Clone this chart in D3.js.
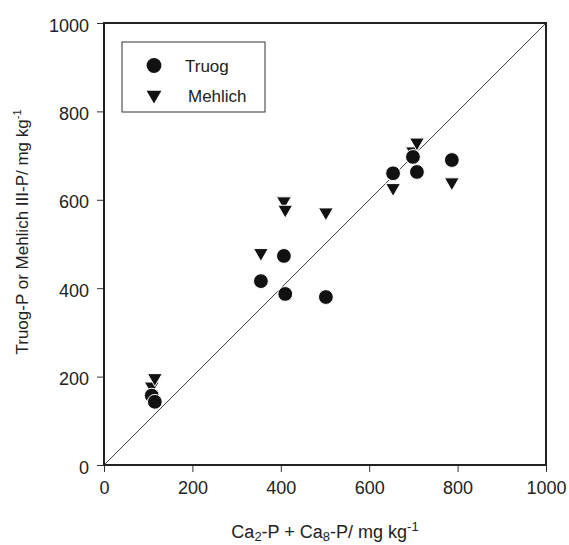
<!DOCTYPE html>
<html><head><meta charset="utf-8">
<script src="https://cdn.jsdelivr.net/npm/d3@7"></script>
<style>body{margin:0;background:#fff}svg{display:block}text{font-family:"Liberation Sans",Arial,sans-serif;fill:#222}</style>
</head><body>
<script>
const sampleX   = [108, 115, 355, 407, 410, 502, 654, 699, 708, 787];
const truogP    = [157, 143, 416, 473, 387, 380, 660, 697, 663, 690];
const mehlichP  = [178, 197, 480, 597, 578, 572, 627, 710, 730, 640];
const xTicks = [0, 200, 400, 600, 800, 1000];
const yTicks = [0, 200, 400, 600, 800, 1000];
const seriesNames = ["Truog", "Mehlich"];

const W = 569, H = 545;
const m = {l:104, r:23, t:23, b:80};
const svg = d3.select("body").append("svg").attr("width", W).attr("height", H);
const x = d3.scaleLinear().domain([0,1000]).range([m.l, W - m.r]);
const y = d3.scaleLinear().domain([0,1000]).range([H - m.b, m.t]);

// 1:1 line
svg.append("line").attr("x1", x(0)).attr("y1", y(0)).attr("x2", x(1000)).attr("y2", y(1000))
  .attr("stroke", "#444").attr("stroke-width", 1);

// axes
const xa = svg.append("g").attr("transform", `translate(0,${y(0)})`)
  .call(d3.axisBottom(x).tickValues(xTicks).tickSize(7).tickPadding(9).tickFormat(d3.format("d")));
const ya = svg.append("g").attr("transform", `translate(${x(0)},0)`)
  .call(d3.axisLeft(y).tickValues(yTicks).tickSize(7).tickPadding(8).tickFormat(d3.format("d")));
[xa, ya].forEach(g => {
  g.select(".domain").remove();
  g.selectAll(".tick line").attr("stroke", "#333").attr("stroke-width", 1);
  g.selectAll(".tick text").style("font-size", "18px").attr("fill", "#222");
});
ya.selectAll(".tick text").attr("dy", "0.45em");

// frame
svg.append("rect").attr("x", x(0)).attr("y", y(1000)).attr("width", x(1000) - x(0)).attr("height", y(0) - y(1000))
  .attr("fill", "none").attr("stroke", "#222").attr("stroke-width", 2);

// markers
const tri = d3.symbol().type(d3.symbolTriangle).size(95);
svg.append("g").selectAll("path").data(sampleX.map((v,i)=>[v, mehlichP[i]])).join("path")
  .attr("d", tri).attr("transform", d => `translate(${x(d[0])},${y(d[1])}) rotate(180)`)
  .attr("fill", "#111").attr("stroke", "#fff").attr("stroke-width", 1);
svg.append("g").selectAll("circle").data(sampleX.map((v,i)=>[v, truogP[i]])).join("circle")
  .attr("cx", d => x(d[0])).attr("cy", d => y(d[1])).attr("r", 7.4)
  .attr("fill", "#111").attr("stroke", "#fff").attr("stroke-width", 1);

// legend
const lg = svg.append("g");
lg.append("rect").attr("x", 122).attr("y", 42).attr("width", 143).attr("height", 70)
  .attr("fill", "#fff").attr("stroke", "#333").attr("stroke-width", 1);
lg.append("circle").attr("cx", 154).attr("cy", 65.5).attr("r", 7.4).attr("fill", "#111");
lg.append("path").attr("d", tri).attr("transform", "translate(154,95) rotate(180)").attr("fill", "#111");
lg.append("text").attr("x", 185).attr("y", 72).style("font-size", "17px").text(seriesNames[0]);
lg.append("text").attr("x", 188).attr("y", 102).style("font-size", "17px").text(seriesNames[1]);

// x label
const xl = svg.append("text").attr("x", (x(0)+x(1000))/2).attr("y", 538).attr("text-anchor", "middle").style("font-size", "18px");
xl.append("tspan").text("Ca");
xl.append("tspan").attr("dy", 3).style("font-size", "13px").text("2");
xl.append("tspan").attr("dy", -3).text("-P + Ca");
xl.append("tspan").attr("dy", 3).style("font-size", "13px").text("8");
xl.append("tspan").attr("dy", -3).text("-P/ mg kg");
xl.append("tspan").attr("dy", -7).style("font-size", "13px").text("-1");

// y label
const yl = svg.append("text").attr("transform", `translate(28,${(y(0)+y(1000))/2 - 12}) rotate(-90)`)
  .attr("text-anchor", "middle").style("font-size", "17px");
yl.append("tspan").text("Truog-P or Mehlich III-P/ mg kg");
yl.append("tspan").attr("dy", -7).style("font-size", "11px").text("-1");
</script>
</body></html>
